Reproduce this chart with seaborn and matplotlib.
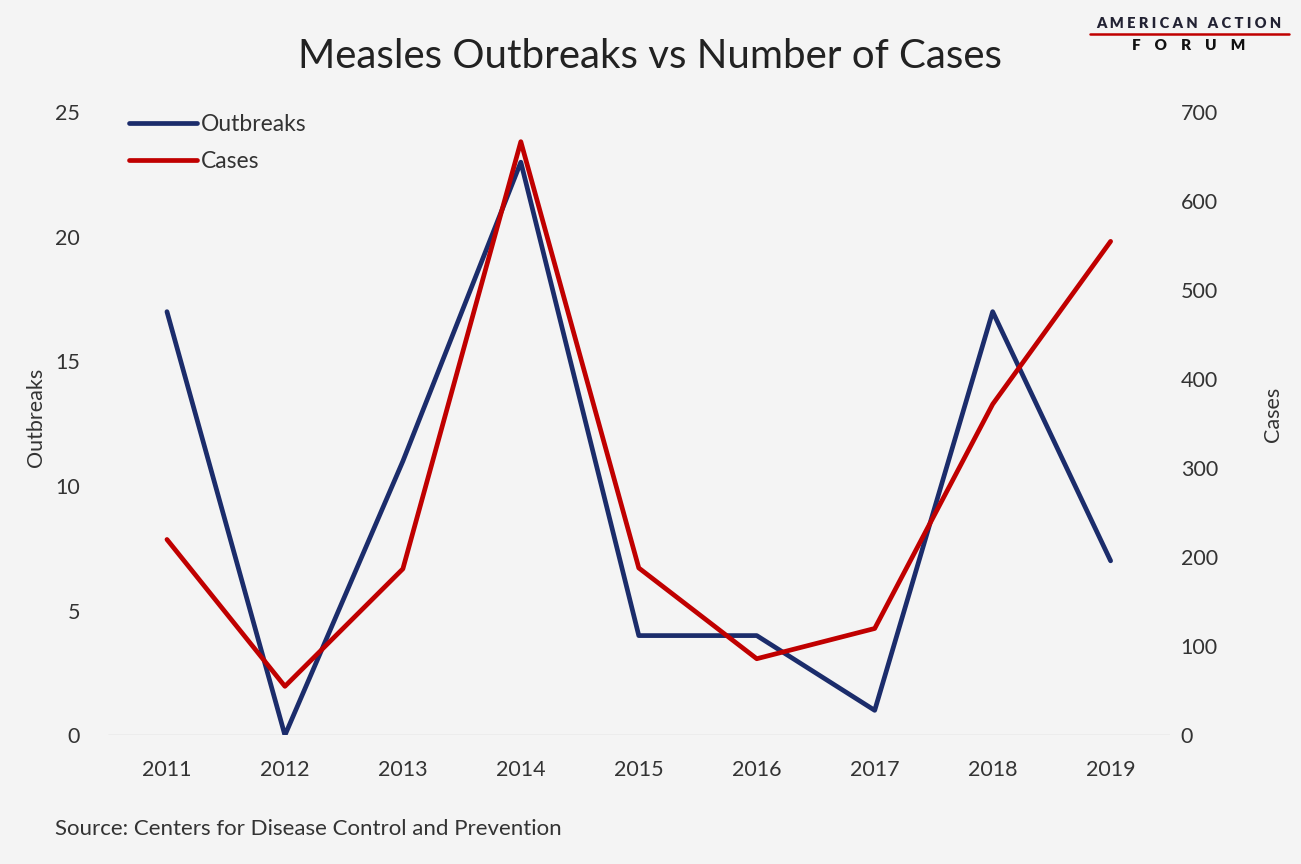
import pandas as pd
import seaborn as sns
import matplotlib.pyplot as plt
from matplotlib.lines import Line2D

# data
years = ["2011", "2012", "2013", "2014", "2015", "2016", "2017", "2018", "2019"]
outbreaks = [17, 0, 11, 23, 4, 4, 1, 17, 7]
cases = [220, 55, 187, 667, 188, 86, 120, 372, 555]

NAVY = "#1b2c6b"
RED = "#c00000"
BG = "#f4f4f4"

df = pd.DataFrame({"year": years, "Outbreaks": outbreaks, "Cases": cases})

sns.set_theme(style="white")
plt.rcParams["font.family"] = ["Lato", "DejaVu Sans"]

fig = plt.figure(figsize=(13.01, 8.64), dpi=100, facecolor=BG)
ax = fig.add_axes([0.083, 0.149, 0.816, 0.721], facecolor=BG)
ax2 = ax.twinx()

sns.lineplot(data=df, x="year", y="Outbreaks", ax=ax, color=NAVY, linewidth=3.4, sort=False)
sns.lineplot(data=df, x="year", y="Cases", ax=ax2, color=RED, linewidth=3.4, sort=False)

ax.set_xlim(-0.5, len(years) - 0.5)
ax.set_ylim(0, 25)
ax2.set_ylim(0, 700)
ax.set_yticks(range(0, 26, 5))
ax2.set_yticks(range(0, 701, 100))

for a in (ax, ax2):
    for s in a.spines.values():
        s.set_visible(False)
    a.tick_params(axis="both", length=0, labelsize=15.5, colors="#333333")
ax.tick_params(axis="y", pad=20)
ax2.tick_params(axis="y", pad=8)
ax.tick_params(axis="x", pad=18)
ax.axhline(0, color="#d0d0d0", linewidth=1, zorder=0)

ax.set_xlabel("")
ax.set_ylabel("Outbreaks", fontsize=15.5, color="#333333")
ax2.set_ylabel("Cases", fontsize=15.5, color="#333333")
ax.yaxis.set_label_coords(-0.058, 0.51)
ax2.yaxis.set_label_coords(1.088, 0.515)

handles = [Line2D([], [], color=NAVY, linewidth=3.4), Line2D([], [], color=RED, linewidth=3.4)]
leg = ax.legend(handles, ["Outbreaks", "Cases"], loc="upper left", bbox_to_anchor=(0.0, 1.03),
                frameon=False, fontsize=16.5, handlelength=3.0, handletextpad=0.15, labelspacing=0.7)
for t in leg.get_texts():
    t.set_color("#333333")

fig.text(0.5, 0.935, "Measles Outbreaks vs Number of Cases", ha="center", va="center",
         fontsize=29, color="#222222")
fig.text(0.042, 0.04, "Source: Centers for Disease Control and Prevention", ha="left", va="center",
         fontsize=16, color="#333333")

# logo
fig.text(0.914, 0.973, "A M E R I C A N   A C T I O N", ha="center", va="center",
         fontsize=10.5, fontweight="heavy", color="#222233")
fig.add_artist(Line2D([0.838, 0.991], [0.961, 0.961], color=RED, linewidth=1.8))
fig.text(0.914, 0.947, "F    O    R    U    M", ha="center", va="center",
         fontsize=11, fontweight="heavy", color="#111111")

fig.savefig("out.png", dpi=100, facecolor=BG)
